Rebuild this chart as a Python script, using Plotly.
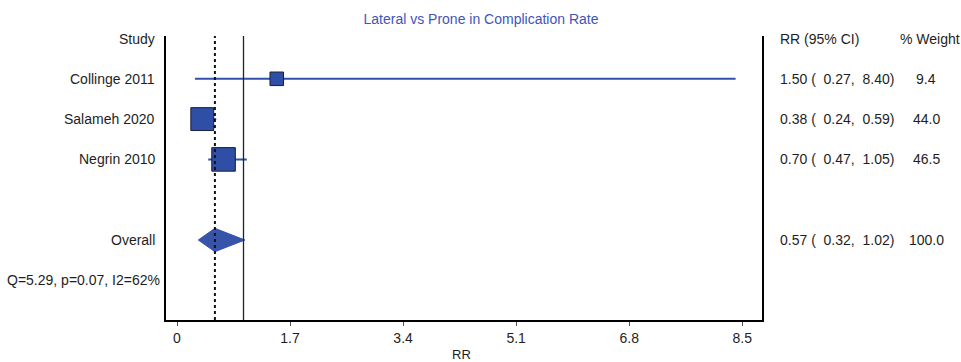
import plotly.graph_objects as go

# Study-level estimates (risk ratio with 95% CI) and weights
studies = ["Collinge 2011", "Salameh 2020", "Negrin 2010"]
rr = [1.50, 0.38, 0.70]
ci_low = [0.27, 0.24, 0.47]
ci_high = [8.40, 0.59, 1.05]
weights = [9.4, 44.0, 46.5]

# Pooled estimate
overall_label = "Overall"
overall_rr = 0.57
overall_low = 0.32
overall_high = 1.02
overall_weight = 100.0

# Heterogeneity statistics
het_q = 5.29
het_p = 0.07
het_i2 = 62

tick_vals = [0, 1.7, 3.4, 5.1, 6.8, 8.5]
tick_text = ["0", "1.7", "3.4", "5.1", "6.8", "8.5"]

FONT = "Liberation Sans, Arial, sans-serif"
BLUE = "#3350ad"
BOX = "#2f4ea6"
TXT = "#1e1e1e"

study_rows = [1, 2, 3]
overall_row = 5
het_row = 6

fig = go.Figure()

# reference lines: null effect (solid) and pooled estimate (dashed)
fig.add_shape(type="line", xref="x", yref="paper", x0=1, x1=1, y0=0, y1=1,
              line=dict(color="#222222", width=1.3))
fig.add_shape(type="line", xref="x", yref="paper", x0=overall_rr, x1=overall_rr,
              y0=0, y1=1, line=dict(color="#111111", width=2, dash="3px,3px"))

# confidence interval whiskers
for row, lo, hi in zip(study_rows, ci_low, ci_high):
    fig.add_trace(go.Scatter(x=[lo, hi], y=[row, row], mode="lines",
                             line=dict(color=BLUE, width=2), hoverinfo="skip",
                             showlegend=False))

# weighted boxes
for row, est, w in zip(study_rows, rr, weights):
    fig.add_trace(go.Scatter(x=[est], y=[row], mode="markers",
                             marker=dict(symbol="square", size=11 + 0.27 * w,
                                         color=BOX,
                                         line=dict(color="#1a1d33", width=1)),
                             hoverinfo="skip", showlegend=False))

# pooled diamond
h = 0.29
fig.add_trace(go.Scatter(
    x=[overall_low, overall_rr, overall_high, overall_rr, overall_low],
    y=[overall_row, overall_row - h, overall_row, overall_row + h, overall_row],
    mode="lines", fill="toself", fillcolor="#3753aa",
    line=dict(color="#3753aa", width=1), hoverinfo="skip", showlegend=False))


def px_to_paper(px):
    """Horizontal page pixel -> paper fraction of the plotting area."""
    return (px - 166) / 596.0


# left-hand labels
left_x = px_to_paper(157)
fig.add_annotation(x=left_x, y=0, xref="paper", yref="y", text="Study",
                   showarrow=False, xanchor="right", yanchor="middle")
for row, name in zip(study_rows, studies):
    fig.add_annotation(x=left_x, y=row, xref="paper", yref="y", text=name,
                       showarrow=False, xanchor="right", yanchor="middle")
fig.add_annotation(x=left_x, y=overall_row, xref="paper", yref="y",
                   text=overall_label, showarrow=False, xanchor="right",
                   yanchor="middle")
fig.add_annotation(x=px_to_paper(162), y=het_row, xref="paper", yref="y",
                   text=f"Q={het_q:.2f}, p={het_p:.2f}, I2={het_i2}%",
                   showarrow=False, xanchor="right", yanchor="middle")

# right-hand columns
ci_x = px_to_paper(778)
wt_x = px_to_paper(926)
fig.add_annotation(x=ci_x, y=0, xref="paper", yref="y", text="RR (95% CI)",
                   showarrow=False, xanchor="left", yanchor="middle")
fig.add_annotation(x=px_to_paper(898), y=0, xref="paper", yref="y",
                   text="% Weight", showarrow=False, xanchor="left",
                   yanchor="middle")
rows_all = study_rows + [overall_row]
est_all = rr + [overall_rr]
lo_all = ci_low + [overall_low]
hi_all = ci_high + [overall_high]
w_all = weights + [overall_weight]
for row, est, lo, hi, w in zip(rows_all, est_all, lo_all, hi_all, w_all):
    fig.add_annotation(x=ci_x, y=row, xref="paper", yref="y",
                       text=f"{est:.2f} (  {lo:.2f},  {hi:.2f})",
                       showarrow=False, xanchor="left", yanchor="middle")
    fig.add_annotation(x=wt_x, y=row, xref="paper", yref="y",
                       text=f"{w:.1f}", showarrow=False, xanchor="center",
                       yanchor="middle")

# axis title
fig.add_annotation(x=(461 - 166) / 596.0, y=-(354 - 320) / 284.0,
                   xref="paper", yref="paper", text="RR", showarrow=False,
                   xanchor="center", yanchor="middle", font=dict(size=13))

fig.update_layout(
    width=961, height=362,
    margin=dict(l=166, r=199, t=36, b=42),
    paper_bgcolor="white", plot_bgcolor="white",
    font=dict(family=FONT, size=14, color=TXT),
    title=dict(text="Lateral vs Prone in Complication Rate", x=481 / 961,
               xanchor="center", y=1 - 19 / 362, yanchor="middle",
               font=dict(family=FONT, size=14, color="#4154b8")),
    xaxis=dict(range=[-0.1654, 8.797], tickvals=tick_vals, ticktext=tick_text,
               showgrid=False, zeroline=False, showline=True, linecolor="black",
               linewidth=2, ticks="outside", ticklen=4, tickwidth=1,
               tickcolor="#555555", tickfont=dict(size=14, color=TXT),
               fixedrange=True),
    yaxis=dict(range=[6.985, -0.062], showgrid=False, zeroline=False,
               showline=True, mirror=True, linecolor="black", linewidth=2,
               showticklabels=False, ticks="", fixedrange=True),
)

fig.write_html("out.html")
